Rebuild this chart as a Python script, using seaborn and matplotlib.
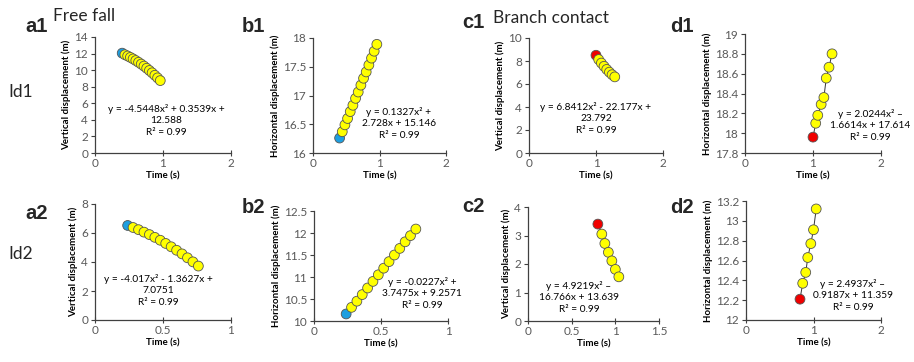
import matplotlib
matplotlib.use("Agg")
import numpy as np
import pandas as pd
import matplotlib.pyplot as plt
import seaborn as sns

# data (time in s, displacement in m)
a1_time = [0.40, 0.44, 0.48, 0.52, 0.56, 0.60, 0.64, 0.68, 0.72, 0.76, 0.80, 0.84, 0.88, 0.92, 0.96]
a1_vert = [12.05, 11.86, 11.71, 11.54, 11.36, 11.16, 10.95, 10.73, 10.49, 10.23, 9.96, 9.68, 9.38, 9.07, 8.74]
b1_time = [0.40, 0.44, 0.48, 0.52, 0.56, 0.60, 0.64, 0.68, 0.72, 0.76, 0.80, 0.84, 0.88, 0.92, 0.96]
b1_horiz = [16.26, 16.37, 16.49, 16.60, 16.72, 16.83, 16.95, 17.06, 17.18, 17.30, 17.41, 17.53, 17.65, 17.77, 17.89]
c1_time = [1.00, 1.04, 1.08, 1.12, 1.16, 1.20, 1.24, 1.28]
c1_vert = [8.50, 8.13, 7.82, 7.54, 7.27, 7.03, 6.81, 6.62]
d1_time = [1.00, 1.04, 1.07, 1.12, 1.16, 1.195, 1.235, 1.28]
d1_horiz = [17.96, 18.10, 18.18, 18.29, 18.36, 18.555, 18.665, 18.80]
a2_time = [0.24, 0.28, 0.32, 0.36, 0.40, 0.44, 0.48, 0.52, 0.56, 0.60, 0.64, 0.68, 0.72, 0.76]
a2_vert = [6.52, 6.38, 6.23, 6.06, 5.89, 5.70, 5.50, 5.28, 5.05, 4.81, 4.56, 4.29, 4.01, 3.72]
b2_time = [0.24, 0.28, 0.32, 0.36, 0.40, 0.44, 0.48, 0.52, 0.56, 0.60, 0.64, 0.68, 0.72, 0.76]
b2_horiz = [10.16, 10.31, 10.45, 10.60, 10.75, 10.90, 11.05, 11.20, 11.35, 11.50, 11.65, 11.80, 11.94, 12.09]
c2_time = [0.80, 0.845, 0.88, 0.92, 0.96, 1.00, 1.04]
c2_vert = [3.40, 3.05, 2.72, 2.41, 2.11, 1.81, 1.55]
d2_time = [0.80, 0.84, 0.885, 0.915, 0.96, 1.00, 1.04]
d2_horiz = [12.21, 12.37, 12.48, 12.63, 12.77, 12.91, 13.12]

a1_eq = "y = -4.5448x² + 0.3539x +\n12.588\nR² = 0.99"
b1_eq = "y = 0.1327x² +\n2.728x + 15.146\nR² = 0.99"
c1_eq = "y = 6.8412x² - 22.177x +\n23.792\nR² = 0.99"
d1_eq = "y = 2.0244x² –\n1.6614x + 17.614\nR² = 0.99"
a2_eq = "y = -4.017x² - 1.3627x +\n7.0751\nR² = 0.99"
b2_eq = "y = -0.0227x² +\n3.7475x + 9.2571\nR² = 0.99"
c2_eq = "y = 4.9219x² –\n16.766x + 13.639\nR² = 0.99"
d2_eq = "y = 2.4937x² –\n0.9187x + 11.359\nR² = 0.99"

vert_label = "Vertical displacement (m)"
horiz_label = "Horizontal displacement (m)"

sns.set_theme(style="ticks")
plt.rcParams["font.family"] = ["Lato", "DejaVu Sans"]

W, H = 914, 362
fig = plt.figure(figsize=(W / 100, H / 100), dpi=100)

BLUE = "#1E9FE0"
RED = "#F00000"
YELLOW = "#FFFF00"
GREY = "#595959"

# (time, values, first colour, ylabel, equation, axes box px (l, r, t, b), xlim, xticks, ylim, yticks, eq centre px)
panels = [
    (a1_time, a1_vert, BLUE, vert_label, a1_eq, (95, 231, 37, 153), (0, 2), [0, 1, 2], (0, 14), np.arange(0, 15, 2), (166, 110)),
    (b1_time, b1_horiz, BLUE, horiz_label, b1_eq, (313, 446, 38, 153), (0, 2), [0, 1, 2], (16, 18), np.arange(16, 18.01, 0.5), (399, 113)),
    (c1_time, c1_vert, RED, vert_label, c1_eq, (529, 663, 38, 153), (0, 2), [0, 1, 2], (0, 10), np.arange(0, 11, 2), (596, 108)),
    (d1_time, d1_horiz, RED, horiz_label, d1_eq, (745, 881, 34, 153), (0, 2), [0, 1, 2], (17.8, 19), np.arange(17.8, 19.01, 0.2), (870, 115)),
    (a2_time, a2_vert, BLUE, vert_label, a2_eq, (95, 231, 204, 320), (0, 1), [0, 0.5, 1], (0, 8), np.arange(0, 9, 2), (158, 280)),
    (b2_time, b2_horiz, BLUE, horiz_label, b2_eq, (314, 448, 211, 321), (0, 1), [0, 0.5, 1], (10, 12.5), np.arange(10, 12.51, 0.5), (422, 283)),
    (c2_time, c2_vert, RED, vert_label, c2_eq, (528, 659, 207, 321), (0, 1.5), [0, 0.5, 1, 1.5], (0, 4), np.arange(0, 5, 1), (579, 287)),
    (d2_time, d2_horiz, RED, horiz_label, d2_eq, (746, 881, 201, 320), (0, 2), [0, 1, 2], (12, 13.2), np.arange(12, 13.21, 0.2), (853, 285)),
]

for t, v, first, ylab, eq, (l, r, top, b), xlim, xt, ylim, yt, (ex, ey) in panels:
    ax = fig.add_axes([l / W, 1 - b / H, (r - l) / W, (b - top) / H])
    df = pd.DataFrame({"t": t, "v": v, "kind": ["start"] + ["rest"] * (len(t) - 1)})
    sns.lineplot(data=df, x="t", y="v", color="#333333", lw=0.7, estimator=None, sort=False, ax=ax)
    sns.scatterplot(data=df, x="t", y="v", hue="kind", palette={"start": first, "rest": YELLOW},
                    s=50, edgecolor="#555555", linewidth=0.6, legend=False, ax=ax, zorder=3, clip_on=False)
    ax.set_xlim(*xlim)
    ax.set_ylim(*ylim)
    ax.set_xticks(xt)
    ax.set_yticks(yt)
    ax.xaxis.set_major_formatter(matplotlib.ticker.FormatStrFormatter("%g"))
    ax.yaxis.set_major_formatter(matplotlib.ticker.FormatStrFormatter("%g"))
    sns.despine(ax=ax)
    for s in ["left", "bottom"]:
        ax.spines[s].set_color("#404040")
        ax.spines[s].set_linewidth(0.9)
    ax.tick_params(axis="y", direction="out", length=3, width=0.8, color="#404040",
                   labelsize=8.5, labelcolor=GREY, pad=2)
    ax.tick_params(axis="x", direction="inout", length=5, width=0.8, color="#404040",
                   labelsize=8.5, labelcolor=GREY, pad=1)
    ax.set_xlabel("Time (s)", fontsize=7, fontweight="bold", color="black", labelpad=2)
    ax.set_ylabel(ylab, fontsize=7, fontweight="bold", color="black", labelpad=2)
    fig.text(ex / W, 1 - (ey - 6) / H, eq, fontsize=7.3, ha="center", va="top",
             linespacing=1.35, color="black")

# panel letters and row / column titles
for lab, x, y in [("a1", 25, 32), ("b1", 242, 32), ("c1", 462, 28), ("d1", 670, 32),
                  ("a2", 25, 219), ("b2", 242, 213), ("c2", 462, 212), ("d2", 670, 213)]:
    fig.text(x / W, 1 - y / H, lab, fontsize=14.5, fontweight="bold", family="Liberation Sans",
             ha="left", va="baseline")
for lab, x, y in [("Free fall", 53, 21), ("Branch contact", 493, 23), ("Id1", 8, 97), ("Id2", 8, 259)]:
    fig.text(x / W, 1 - y / H, lab, fontsize=12.5, ha="left", va="baseline")

fig.savefig("out.png", dpi=100)
